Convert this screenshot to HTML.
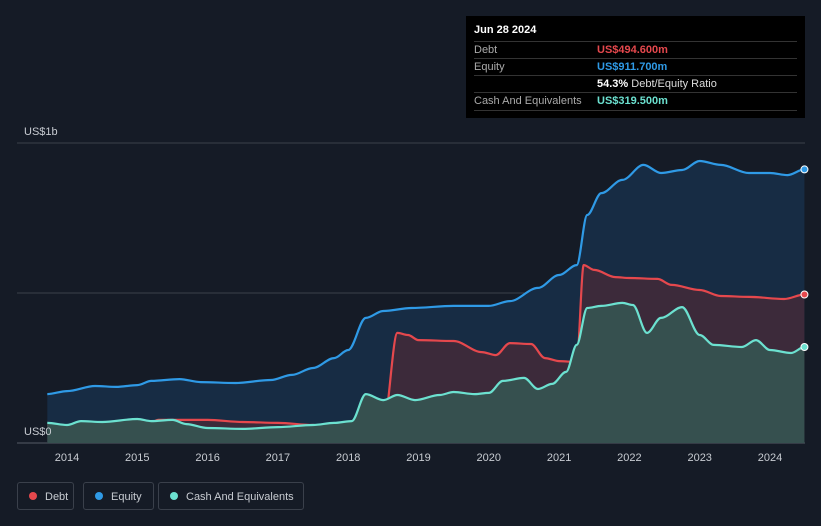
<!DOCTYPE html>
<html><head><meta charset="utf-8"><style>
body{margin:0;background:#151b26;width:821px;height:526px;overflow:hidden;font-family:"Liberation Sans",sans-serif}
svg{position:absolute;left:0;top:0}
.tip{position:absolute;left:466px;top:16px;width:339px;height:102px;background:#000;color:#fff;font-size:11px}
.row{position:absolute;left:8px;width:323px;border-top:1px solid #333;height:17px;line-height:17px}
.row span{position:absolute;left:123px}
.lg{position:absolute;top:482px;height:28px;border:1px solid #3a404b;border-radius:3px;color:#c8ccd2;font-size:11px;line-height:28px;box-sizing:border-box}
.dot{display:inline-block;width:8px;height:8px;border-radius:50%;margin:0 8px 0 11px}
</style></head><body>
<svg width="821" height="526" id="c"></svg>
<div class="tip">
<div style="position:absolute;left:8px;top:8px;font-weight:bold">Jun 28 2024</div>
<div class="row" style="top:25px;color:#aaa">Debt<span style="color:#e5484d;font-weight:bold">US$494.600m</span></div>
<div class="row" style="top:42px;color:#aaa">Equity<span style="color:#2f9ae6;font-weight:bold">US$911.700m</span></div>
<div class="row" style="top:59px;color:#aaa"><span style="color:#ddd"><b style="color:#fff">54.3%</b> Debt/Equity Ratio</span></div>
<div class="row" style="top:76px;color:#aaa;border-bottom:1px solid #333">Cash And Equivalents<span style="color:#6ce1d0;font-weight:bold">US$319.500m</span></div>
</div>
<div class="lg" style="left:17px;width:57px"><span class="dot" style="background:#e5484d"></span>Debt</div>
<div class="lg" style="left:83px;width:71px"><span class="dot" style="background:#2f9ae6"></span>Equity</div>
<div class="lg" style="left:158px;width:146px"><span class="dot" style="background:#6ce1d0"></span>Cash And Equivalents</div>
<script>
const eqT=[2013.72,2014.0,2014.4,2014.7,2015.0,2015.2,2015.6,2015.9,2016.4,2016.9,2017.2,2017.5,2017.8,2018.0,2018.25,2018.5,2018.9,2019.5,2019.9,2020.0,2020.3,2020.7,2021.0,2021.25,2021.4,2021.6,2021.9,2022.2,2022.45,2022.75,2023.0,2023.3,2023.7,2024.0,2024.25,2024.49];
const eqV=[163,173,190,187,193,207,213,203,200,210,227,250,283,310,417,440,450,457,457,457,473,517,560,593,760,833,877,927,900,910,940,927,900,900,893,912];
const dbT=[2013.72,2014.0,2014.4,2014.8,2015.1,2015.3,2016.0,2016.5,2017.0,2017.5,2018.0,2018.3,2018.5,2018.7,2018.85,2019.0,2019.5,2019.9,2020.1,2020.3,2020.6,2020.8,2021.0,2021.25,2021.35,2021.5,2021.8,2022.0,2022.4,2022.6,2023.0,2023.3,2023.7,2024.2,2024.49];
const dbV=[60,53,60,50,53,77,77,70,67,60,53,57,57,367,360,343,340,303,293,333,330,283,273,270,593,577,553,550,547,527,510,490,487,480,495];
const caT=[2013.72,2014.0,2014.2,2014.5,2015.0,2015.2,2015.5,2015.7,2016.0,2016.5,2017.0,2017.5,2017.8,2018.05,2018.25,2018.5,2018.7,2018.95,2019.3,2019.5,2019.8,2020.0,2020.2,2020.5,2020.7,2020.9,2021.1,2021.25,2021.4,2021.6,2021.9,2022.05,2022.25,2022.45,2022.75,2023.0,2023.2,2023.6,2023.8,2024.0,2024.3,2024.49];
const caV=[67,60,73,70,80,73,77,63,50,47,53,60,67,73,163,143,160,143,160,170,163,167,207,217,180,197,237,327,450,457,467,460,367,417,453,360,327,320,343,310,300,320];
const years=[2014,2015,2016,2017,2018,2019,2020,2021,2022,2023,2024];
const X=t=>67+(t-2014)*70.3, Y=v=>443-v*0.3;
const s=document.getElementById('c');const NS='http://www.w3.org/2000/svg';
function mk(tag,a,name){const e=document.createElementNS(NS,tag);for(const k in a)e.setAttribute(k,a[k]);


s.appendChild(e);return e;}
[0,500,1000].forEach(v=>mk('line',{x1:17,x2:805,y1:Y(v),y2:Y(v),stroke:v?'#3a404b':'#555b66','stroke-width':1},'gridline'));
function smooth(T,V){const p=T.map((t,i)=>[X(t),Y(V[i])]);let d='M'+p[0][0].toFixed(1)+','+p[0][1].toFixed(1);
for(let i=0;i<p.length-1;i++){const a=p[i],b=p[i+1],dx=(b[0]-a[0])/3;
d+=' C'+(a[0]+dx).toFixed(1)+','+a[1].toFixed(1)+' '+(b[0]-dx).toFixed(1)+','+b[1].toFixed(1)+' '+b[0].toFixed(1)+','+b[1].toFixed(1);}
return d;}
function series(T,V,fill,stroke,name){const d=smooth(T,V);
mk('path',{d:d+' L'+X(T[T.length-1])+','+Y(0)+' L'+X(T[0])+','+Y(0)+'Z',fill:fill},name+'-area');
mk('path',{d:d,fill:'none',stroke:stroke,'stroke-width':2.2,'stroke-linejoin':'round'},name+'-line');
mk('circle',{cx:X(T[T.length-1]),cy:Y(V[V.length-1]),r:3.5,fill:stroke,stroke:'#fff','stroke-width':1},name+'-end-dot');}
series(eqT,eqV,'#172c44','#2f9ae6','equity');
series(dbT,dbV,'#3c2a3a','#e5484d','debt');
series(caT,caV,'#36504f','#6ce1d0','cash');
years.forEach(y=>{const t=mk('text',{x:X(y),y:461,fill:'#c8ccd2','font-size':11,'text-anchor':'middle'},'x-tick-label');t.textContent=y;});
const l1=mk('text',{x:24,y:135,fill:'#c8ccd2','font-size':11},'y-axis-label-top');l1.textContent='US$1b';
const l0=mk('text',{x:24,y:435,fill:'#c8ccd2','font-size':11},'y-axis-label-zero');l0.textContent='US$0';
</script>
</body></html>
